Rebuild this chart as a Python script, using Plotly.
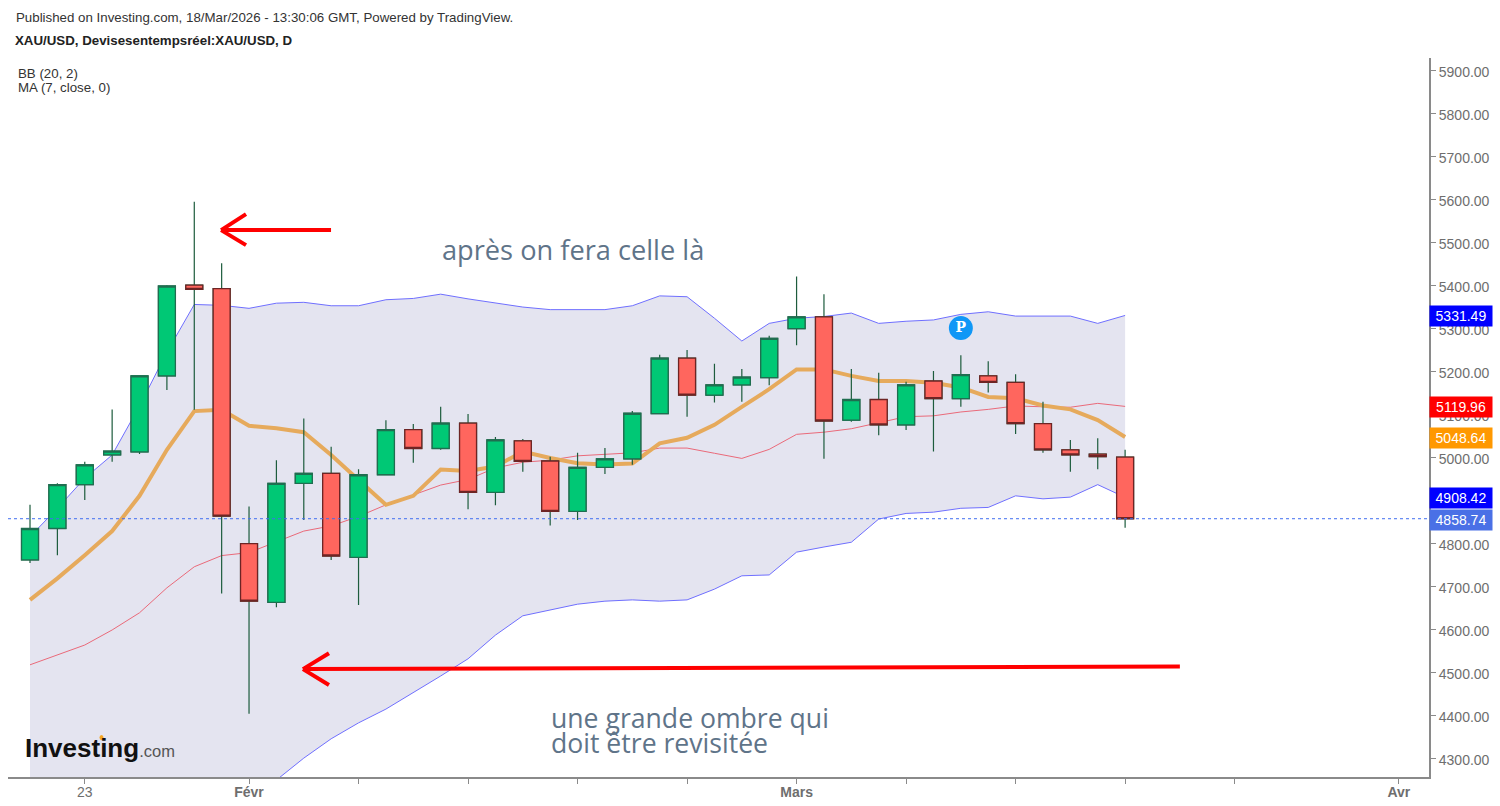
import plotly.graph_objects as go

idx = list(range(41))
opens = [4763,4836,4938,5007,5014,5191,5402,5394,4801,4664,4941,4964,4769,4961,5066,5022,5081,4920,5040,4993,
         4876,4978,4998,5103,5232,5146,5170,5187,5301,5328,5088,5136,5077,5179,5138,5191,5176,5080,5019,5009,5002]
highs = [4891,4941,4991,5113,5192,5402,5596,5453,4887,4995,5092,5026,4974,5088,5079,5119,5102,5049,5044,5003,
         5012,5023,5109,5240,5251,5219,5207,5284,5422,5381,5207,5198,5177,5202,5239,5225,5195,5131,5042,5046,5019]
lows = [4756,4774,4902,4991,5009,5158,5112,4685,4405,4653,4856,4763,4658,4960,4989,5019,4881,4890,4968,4843,
        4856,4963,4984,5102,5096,5129,5131,5169,5262,4998,5084,5053,5065,5015,5119,5152,5056,5012,4968,4974,4838]
closes = [4836,4938,4984,5016,5191,5400,5392,4865,4667,4941,4964,4772,4961,5066,5022,5081,4920,5042,4992,4876,
          4978,4998,5104,5232,5146,5170,5188,5278,5328,5086,5136,5077,5170,5138,5194,5176,5080,5019,5007,5003,4858.74]
bb_upper = [4817,4883,4953,5007,5121,5246,5357,5355,5348,5360,5362,5354,5354,5368,5371,5381,5370,5360,5351,5345,
            5345,5345,5354,5377,5375,5325,5272,5313,5325,5329,5337,5313,5318,5321,5334,5340,5330,5330,5330,5313,5331.49]
bb_mid = [4519,4542,4565,4600,4640,4698,4747,4773,4780,4805,4830,4842,4864,4891,4914,4937,4950,4977,4990,4995,
          5005,5008,5012,5023,5023,5011,4999,5020,5055,5060,5068,5082,5096,5098,5107,5113,5121,5119,5118,5127,5119.96]
bb_lower = [4226,4200,4177,4193,4163,4149,4137,4191,4212,4251,4302,4347,4384,4416,4454,4493,4533,4588,4633,4647,
            4660,4667,4670,4667,4670,4695,4726,4728,4781,4793,4804,4858,4871,4874,4883,4885,4912,4905,4909,4938,4908.42]
ma7 = [4670,4720,4774,4830,4912,5019,5109,5112,5075,5069,5060,5007,4949,4891,4912,4973,4970,4980,5015,5000,
       4988,4985,4987,5034,5047,5077,5119,5160,5206,5206,5191,5179,5179,5175,5164,5142,5139,5122,5113,5088,5048.64]

x_tick_vals = [2, 8, 12, 16, 20, 24, 28, 32, 36, 40, 44, 50]
x_tick_text = ["23", "<b>Févr</b>", "", "", "", "", "<b>Mars</b>", "", "", "", "", "<b>Avr</b>"]
y_tick_vals = list(range(4300, 6000, 100))
price_tags = [(5331.49, "#0000ff"), (5119.96, "#ff0000"), (5048.64, "#ff9800"), (4908.42, "#0000ff"), (4858.74, "#4a70e6")]
last_price = 4858.74

X_RANGE = [-0.804, 51.1]
Y_RANGE = [4258.1, 5930.2]
FONT = "Liberation Sans"
GREY = "#6e6e6e"
GREEN_DARK = "#1d5c3d"
PLOT_BOTTOM = 777
PLOT_H = 719

body_high = [max(a, b) for a, b in zip(opens, closes)]
body_low = [min(a, b) for a, b in zip(opens, closes)]

fig = go.Figure()
fig.add_trace(go.Scatter(x=idx, y=bb_upper, mode="lines", line=dict(color="#6f6fff", width=1), hoverinfo="skip"))
fig.add_trace(go.Scatter(x=idx, y=bb_lower, mode="lines", line=dict(color="#6f6fff", width=1),
                         fill="tonexty", fillcolor="#e4e4f0", hoverinfo="skip"))
fig.add_trace(go.Scatter(x=idx, y=bb_mid, mode="lines", line=dict(color="#ea6a7a", width=1), hoverinfo="skip"))
fig.add_trace(go.Scatter(x=idx, y=ma7, mode="lines", line=dict(color="#e6aa5c", width=4), hoverinfo="skip"))

# wicks
fig.add_trace(go.Candlestick(x=idx, open=opens, high=highs, low=lows, close=closes, yaxis="y2",
                             whiskerwidth=0,
                             increasing=dict(line=dict(color=GREEN_DARK, width=1.2), fillcolor="#00c875"),
                             decreasing=dict(line=dict(color=GREEN_DARK, width=1.2), fillcolor="#ff665e")))
# bodies
fig.add_trace(go.Candlestick(x=idx, open=opens, high=body_high, low=body_low, close=closes, yaxis="y2",
                             whiskerwidth=0,
                             increasing=dict(line=dict(color="#1f6e50", width=1.3), fillcolor="#00c875"),
                             decreasing=dict(line=dict(color="#6e2424", width=1.3), fillcolor="#ff665e")))
# pivot marker
fig.add_trace(go.Scatter(x=[34], y=[5302], mode="markers+text", yaxis="y2", text=["<b>P</b>"],
                         textposition="middle center", textfont=dict(color="white", size=14, family="DejaVu Serif"),
                         marker=dict(color="#1097f6", size=24), hoverinfo="skip"))


def arrow(x_tail, y_tail, x_tip, y_tip, x_head, y_head_up, y_head_dn):
    path = (f"M {x_tail} {y_tail} L {x_tip} {y_tip} "
            f"M {x_head} {y_head_up} L {x_tip} {y_tip} "
            f"M {x_head} {y_head_dn} L {x_tip} {y_tip}")
    return dict(type="path", path=path, xref="x", yref="y", line=dict(color="#ff0000", width=4), layer="above")


def px_x(px):
    return (px - 8) / 1421


def px_y(py):
    return (PLOT_BOTTOM - py) / PLOT_H


shapes = [
    dict(type="line", xref="paper", yref="y", x0=0, x1=1, y0=last_price, y1=last_price,
         line=dict(color="#3f6df0", width=1, dash="dot"), layer="above"),
    arrow(10.995, 5530, 6.98, 5530, 7.89, 5567, 5495),
    arrow(42.0, 4515, 9.97, 4509, 10.92, 4546, 4472),
    dict(type="circle", xref="paper", yref="paper", x0=px_x(99.5), x1=px_x(103.5), y0=px_y(740), y1=px_y(735),
         fillcolor="#f5a623", line=dict(width=0), layer="above"),
]

annots = []


def txt(px, py, text, size, color, family=FONT, anchor="left"):
    annots.append(dict(xref="paper", yref="paper", x=px_x(px), y=px_y(py), text=text,
                       showarrow=False, xanchor=anchor, yanchor="middle",
                       font=dict(size=size, color=color, family=family), borderpad=0, borderwidth=0))


txt(16, 17.5, "Published on Investing.com, 18/Mar/2026 - 13:30:06 GMT, Powered by TradingView.", 13.3, "#333333")
txt(15, 40.5, "<b>XAU/USD, Devisesentempsréel:XAU/USD, D</b>", 13.3, "#222222")
txt(18, 73.5, "BB (20, 2)", 13.3, "#333333")
txt(18, 87.5, "MA (7, close, 0)", 13.3, "#333333")
txt(442, 250, "après on fera celle là", 27.2, "#5f7489", "Open Sans")
txt(551, 718, "une grande ombre qui", 26.6, "#5f7489", "Open Sans")
txt(551, 743, "doit être revisitée", 26.6, "#5f7489", "Open Sans")
txt(25, 748, "<b>Investing</b><span style='font-size:16.5px;color:#555'>.com</span>", 26, "#111111")

for value, colour in price_tags:
    annots.append(dict(xref="paper", yref="y", x=1.0, y=value, xanchor="left", yanchor="middle", xshift=0, yshift=-1,
                       text=f"{value:.2f}", showarrow=False, bgcolor=colour, width=62, height=20, align="center",
                       borderpad=0, font=dict(size=14, color="white", family=FONT)))

fig.update_layout(
    width=1500, height=806, showlegend=False, paper_bgcolor="white", plot_bgcolor="white",
    margin=dict(l=8, r=71, t=58, b=29, autoexpand=False), boxmode="overlay", boxgap=0.38, boxgroupgap=0,
    hovermode=False, shapes=shapes, annotations=annots, font=dict(family=FONT),
    xaxis=dict(range=X_RANGE, tickmode="array", tickvals=x_tick_vals, ticktext=x_tick_text, showgrid=False,
               zeroline=False, showline=True, linecolor="#8a8a8a", linewidth=2, ticks="outside", ticklen=5,
               tickcolor="#8a8a8a", tickfont=dict(size=14, color=GREY, family=FONT), ticklabelstandoff=-4,
               rangeslider=dict(visible=False)),
    yaxis=dict(range=Y_RANGE, side="right", tickmode="array", tickvals=y_tick_vals, tickformat=".2f",
               showgrid=False, zeroline=False, showline=True, linecolor="#8a8a8a", linewidth=2, ticks="outside",
               ticklen=5, tickcolor="#8a8a8a", tickfont=dict(size=14, color=GREY, family=FONT), ticklabelshift=1),
    yaxis2=dict(range=Y_RANGE, overlaying="y", side="right", visible=False, showgrid=False),
)

fig.write_html("out.html", config={"displayModeBar": False},
               post_script="document.body.style.margin='0';document.documentElement.style.overflow='hidden';")
